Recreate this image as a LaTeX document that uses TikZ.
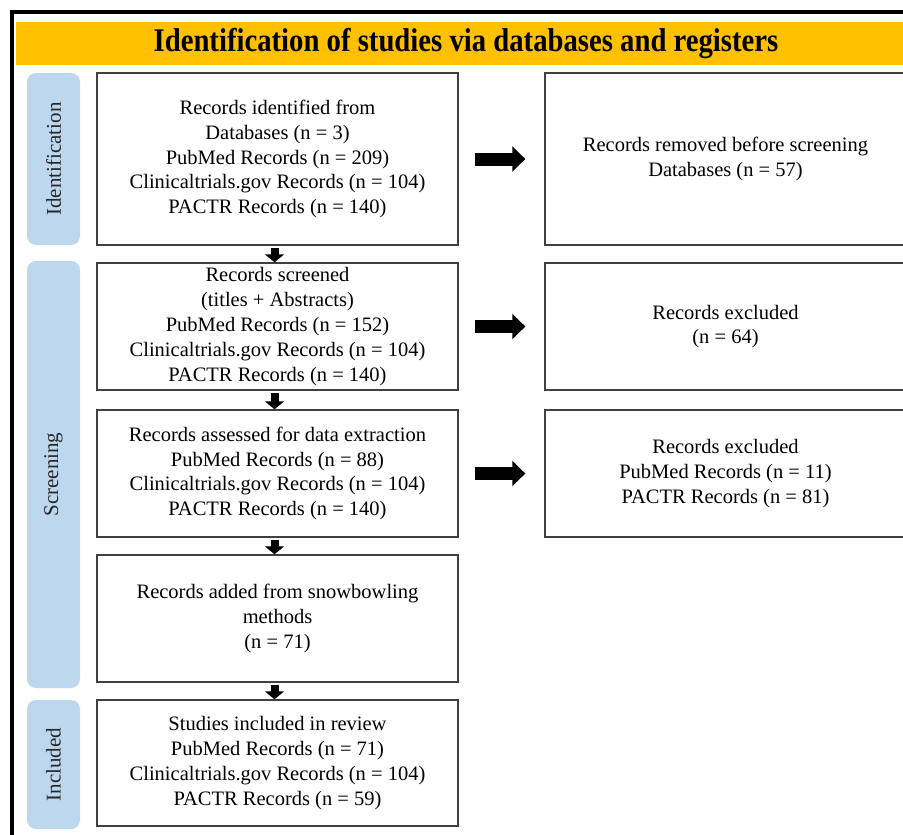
\documentclass[tikz,border=0pt]{standalone}
\usepackage{fontspec}
\setmainfont{Liberation Serif}
\usepackage{graphicx}
\usetikzlibrary{arrows.meta, positioning}
\definecolor{headeryellow}{HTML}{FFC000}
\definecolor{phaseblue}{HTML}{BDD7EE}

\begin{document}
\begin{tikzpicture}[
        x=1pt, y=-1pt,
        % Boxes of the flow chart
        recbox/.style={draw=black!75, line width=1.4pt, fill=white,
            minimum width=361pt, inner sep=0pt, align=center,
            font=\fontsize{20.5}{24.8}\selectfont},
        % Blue phase labels on the left
        phase/.style={fill=phaseblue, rounded corners=9pt, rotate=90,
            minimum height=53pt, inner sep=0pt, text=black!85,
            font=\fontsize{21}{24}\selectfont},
        % Arrows
        downarrow/.style={line width=8pt, -{Triangle[width=19pt, length=8pt]},
            shorten <=2pt},
        sidearrow/.style={line width=13pt, -{Triangle[width=25pt, length=13pt]},
            shorten <=16pt, shorten >=19pt}
    ]
    \useasboundingbox (0,0) rectangle (903,835);
    \clip (0,0) rectangle (903,835);

    % Outer frame
    \draw[line width=3.5pt] (12,845) -- (12,12) -- (915,12);

    % Header
    \node[fill=headeryellow, minimum width=900pt, minimum height=43pt,
        inner sep=0pt, font=\fontsize{33}{33}\selectfont\bfseries]
        (header) at (466,43.5)
        {\scalebox{0.87}[1]{Identification of studies via databases and registers}};

    % Phases
    \node[phase, minimum width=172pt] (identification) at (53.5,159) {Identification};
    \node[phase, minimum width=427pt] (screening) at (53.5,474.5) {Screening};
    \node[phase, minimum width=129pt] (included) at (53.5,764.5) {Included};

    % Left column
    \node[recbox, minimum height=172pt] (identified) at (277.5,159)
        {Records identified from\\ Databases (n = 3)\\ PubMed Records (n = 209)\\
         Clinicaltrials.gov Records (n = 104)\\ PACTR Records (n = 140)};
    \node[recbox, minimum height=127pt] (screened) at (277.5,326.5)
        {Records screened\\ (titles + Abstracts)\\ PubMed Records (n = 152)\\
         Clinicaltrials.gov Records (n = 104)\\ PACTR Records (n = 140)};
    \node[recbox, minimum height=127pt] (assessed) at (277.5,473.5)
        {Records assessed for data extraction\\ PubMed Records (n = 88)\\
         Clinicaltrials.gov Records (n = 104)\\ PACTR Records (n = 140)};
    \node[recbox, minimum height=127pt] (snowball) at (277.5,618.5)
        {Records added from snowbowling\\ methods\\ (n = 71)};
    \node[recbox, minimum height=126pt] (studies) at (277.5,763)
        {Studies included in review\\ PubMed Records (n = 71)\\
         Clinicaltrials.gov Records (n = 104)\\ PACTR Records (n = 59)};

    % Right column
    \node[recbox, minimum height=172pt] (removed) at (725.5,159)
        {Records removed before screening\\ Databases (n = 57)};
    \node[recbox, minimum height=127pt] (excluded1) at (725.5,326.5)
        {Records excluded\\ (n = 64)};
    \node[recbox, minimum height=127pt] (excluded2) at (725.5,473.5)
        {Records excluded\\ PubMed Records (n = 11)\\ PACTR Records (n = 81)};

    % Connectors
    \draw[downarrow] ([xshift=-3pt]identified.south) -- ([xshift=-3pt]screened.north);
    \draw[downarrow] ([xshift=-3pt]screened.south) -- ([xshift=-3pt]assessed.north);
    \draw[downarrow] ([xshift=-3pt]assessed.south) -- ([xshift=-3pt]snowball.north);
    \draw[downarrow] ([xshift=-3pt]snowball.south) -- ([xshift=-3pt]studies.north);
    \draw[sidearrow] (identified.east) -- (removed.west);
    \draw[sidearrow] (screened.east) -- (excluded1.west);
    \draw[sidearrow] (assessed.east) -- (excluded2.west);
\end{tikzpicture}
\end{document}
